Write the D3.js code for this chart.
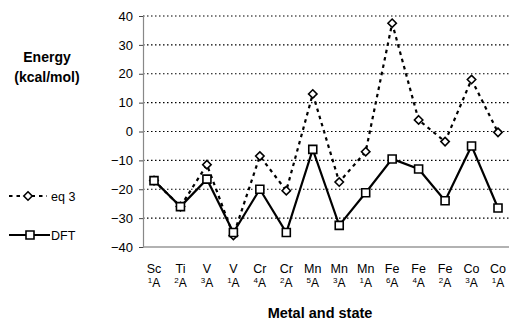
<!DOCTYPE html>
<html>
<head>
<meta charset="utf-8">
<script src="https://cdn.jsdelivr.net/npm/d3@7"></script>
<style>
  html, body { margin: 0; padding: 0; background: #fff; }
  text { font-family: "Liberation Sans", Arial, sans-serif; fill: #000; }
</style>
</head>
<body>
<svg id="chart" width="509" height="325"></svg>
<script>
// Categories: metal and spin multiplicity of the state
const Metals = ["Sc", "Ti", "V", "V", "Cr", "Cr", "Mn", "Mn", "Mn", "Fe", "Fe", "Fe", "Co", "Co"];
const Multiplicity = ["1", "2", "3", "1", "4", "2", "5", "3", "1", "6", "4", "2", "3", "1"];
// Series values (kcal/mol)
const Eq3 = [-17, -26, -11.5, -36, -8.5, -20.5, 13, -17.5, -7, 37.5, 4, -3.5, 18, -0.3];
const DFT = [-17, -26, -16.5, -35, -20, -35, -6.2, -32.5, -21.2, -9.5, -13, -24, -5, -26.5];
const YTicks = [40, 30, 20, 10, 0, -10, -20, -30, -40];

const Svg = d3.select("#chart");
const Left = 143, Right = 509, Top = 16, Bottom = 247;

// Scales
const X = d3.scalePoint().domain(d3.range(Metals.length)).range([154, 498]);
const Y = d3.scaleLinear().domain([-40, 40]).range([Bottom, Top]);

// Gridlines (dotted)
Svg.append("g").selectAll("line").data(YTicks.filter(T => T > -40)).join("line")
    .attr("x1", Left).attr("x2", Right)
    .attr("y1", T => Y(T)).attr("y2", T => Y(T))
    .attr("stroke", "#000").attr("stroke-width", 1.2)
    .attr("stroke-dasharray", "1.5,2.5");

// Y axis
const YAxis = Svg.append("g").attr("transform", `translate(${Left},0)`)
    .call(d3.axisLeft(Y).tickValues(YTicks).tickSize(4).tickPadding(6));
YAxis.select(".domain").attr("stroke", "#888").attr("stroke-width", 1.2);
YAxis.selectAll(".tick line").attr("stroke", "#444");
YAxis.selectAll(".tick text")
    .attr("font-family", "'Liberation Sans', Arial, sans-serif")
    .attr("font-size", 13).attr("fill", "#000");

// X axis baseline
Svg.append("line").attr("x1", Left).attr("x2", Right)
    .attr("y1", Bottom).attr("y2", Bottom)
    .attr("stroke", "#999").attr("stroke-width", 1.5);

// Category labels
const Labels = Svg.append("g").selectAll("g").data(Metals).join("g")
    .attr("transform", (D, I) => `translate(${X(I)},0)`);
Labels.append("text").attr("y", 273).attr("text-anchor", "middle")
    .attr("font-size", 12.5).text(D => D);
const State = Labels.append("text").attr("y", 287).attr("text-anchor", "middle").attr("font-size", 12);
State.append("tspan").attr("font-size", 8).attr("dy", -4).text((D, I) => Multiplicity[I]);
State.append("tspan").attr("dy", 4).text("A");

// Axis titles
Svg.append("text").attr("x", 320).attr("y", 318).attr("text-anchor", "middle")
    .attr("font-size", 14.5).attr("font-weight", "bold").text("Metal and state");
Svg.append("text").attr("x", 47).attr("y", 62).attr("text-anchor", "middle")
    .attr("font-size", 14).attr("font-weight", "bold").text("Energy");
Svg.append("text").attr("x", 47).attr("y", 82).attr("text-anchor", "middle")
    .attr("font-size", 14).attr("font-weight", "bold").text("(kcal/mol)");

// Lines
const Line = d3.line().x((D, I) => X(I)).y(D => Y(D));
Svg.append("path").datum(Eq3).attr("d", Line)
    .attr("fill", "none").attr("stroke", "#000").attr("stroke-width", 2.2)
    .attr("stroke-dasharray", "3.5,4");
Svg.append("path").datum(DFT).attr("d", Line)
    .attr("fill", "none").attr("stroke", "#000").attr("stroke-width", 2.2);

// Markers
const Diamond = d3.symbol().type(d3.symbolDiamond2).size(45);
const Square = d3.symbol().type(d3.symbolSquare).size(64);
Svg.append("g").selectAll("path").data(Eq3).join("path")
    .attr("transform", (D, I) => `translate(${X(I)},${Y(D)})`)
    .attr("d", Diamond).attr("fill", "#fff").attr("stroke", "#000").attr("stroke-width", 1.6);
Svg.append("g").selectAll("path").data(DFT).join("path")
    .attr("transform", (D, I) => `translate(${X(I)},${Y(D)})`)
    .attr("d", Square).attr("fill", "#fff").attr("stroke", "#000").attr("stroke-width", 1.6);

// Legend
const Legend = Svg.append("g");
Legend.append("line").attr("x1", 9).attr("x2", 47).attr("y1", 196).attr("y2", 196)
    .attr("stroke", "#000").attr("stroke-width", 2).attr("stroke-dasharray", "3.5,4");
Legend.append("path").attr("transform", "translate(28,196)").attr("d", Diamond)
    .attr("fill", "#fff").attr("stroke", "#000").attr("stroke-width", 1.6);
Legend.append("text").attr("x", 51).attr("y", 200.5).attr("font-size", 12.5).text("eq 3");
Legend.append("line").attr("x1", 9).attr("x2", 50).attr("y1", 235).attr("y2", 235)
    .attr("stroke", "#000").attr("stroke-width", 2);
Legend.append("path").attr("transform", "translate(30,235)").attr("d", Square)
    .attr("fill", "#fff").attr("stroke", "#000").attr("stroke-width", 1.6);
Legend.append("text").attr("x", 51).attr("y", 239.5).attr("font-size", 12.5).text("DFT");
</script>
</body>
</html>
